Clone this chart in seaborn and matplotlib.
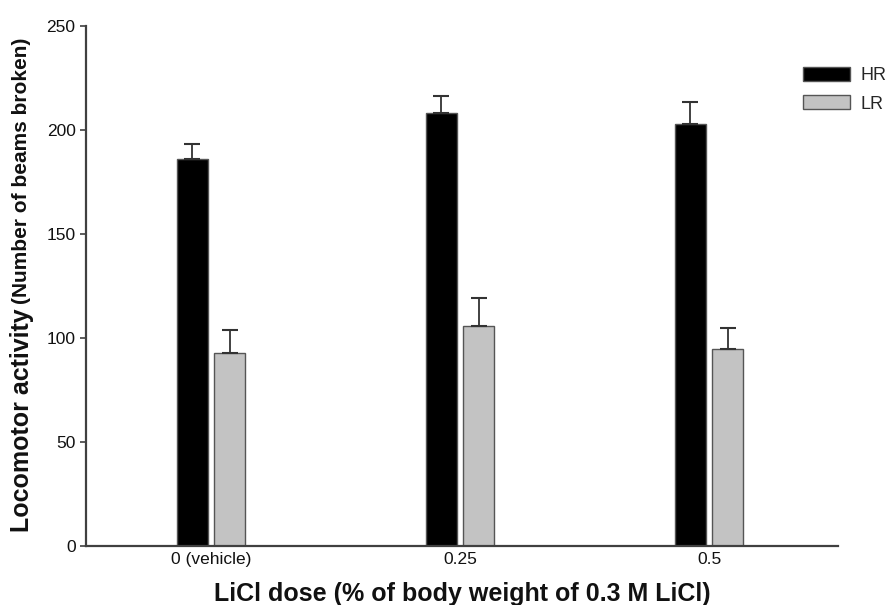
import matplotlib
matplotlib.use("Agg")
import matplotlib.pyplot as plt
import seaborn as sns
import pandas as pd

doses = ["0 (vehicle)", "0.25", "0.5"]
groups = ["HR", "LR"]
hr_means = [186, 208, 203]
hr_sem = [7.5, 8.5, 10.5]
lr_means = [93, 106, 94.5]
lr_sem = [11, 13, 10.5]

sns.set_theme(style="white")
font = "Liberation Sans"
plt.rcParams["font.family"] = [font, "DejaVu Sans"]

df = pd.DataFrame({
    "dose": doses * 2,
    "group": ["HR"] * 3 + ["LR"] * 3,
    "value": hr_means + lr_means,
    "err": hr_sem + lr_sem,
})

fig = plt.figure(figsize=(8.91, 6.05), dpi=100)
ax = fig.add_axes([86 / 891, 59 / 605, 752 / 891, 520 / 605])

sns.barplot(data=df, x="dose", y="value", hue="group", order=doses,
            hue_order=groups, palette={"HR": "#000000", "LR": "#c3c3c3"},
            width=0.3, gap=0.18, errorbar=None, ax=ax,
            edgecolor="#555555", linewidth=1.0, saturation=1)

# one-sided (upper) error bars at the centre of each drawn bar
for patch_group, g in zip(ax.containers, groups):
    sub = df[df["group"] == g].set_index("dose").loc[doses]
    xs = [p.get_x() + p.get_width() / 2 for p in patch_group]
    ax.errorbar(xs, sub["value"].values,
                yerr=[[0] * len(xs), sub["err"].values],
                fmt="none", ecolor="#333333", elinewidth=1.3,
                capsize=5.7, capthick=1.5, zorder=3)

ax.set_ylim(0, 250)
ax.set_xlim(-0.502, 2.518)
ax.set_yticks([0, 50, 100, 150, 200, 250])
for s in ["top", "right"]:
    ax.spines[s].set_visible(False)
for s in ["left", "bottom"]:
    ax.spines[s].set_color("#404040")
    ax.spines[s].set_linewidth(1.6)
ax.tick_params(axis="y", which="both", left=True, length=4.5, width=1.2,
               color="#404040", labelsize=12.5, pad=3, labelcolor="#111111")
ax.tick_params(axis="x", bottom=False, length=0, labelsize=12.5, pad=4,
               labelcolor="#111111")
ax.set_ylabel("")
ax.set_xlabel("LiCl dose (% of body weight of 0.3 M LiCl)", fontsize=18,
              fontweight="bold", color="#111111")
ax.xaxis.label.set_va("baseline")
ax.xaxis.set_label_coords((462 - 86) / 752, (546 - 601.5) / 520)

leg = ax.legend(loc="upper left", bbox_to_anchor=(802.7 / 891, 1 - 67 / 605),
                bbox_transform=fig.transFigure, frameon=False,
                borderpad=0, borderaxespad=0,
                handlelength=2.6, handleheight=0.8, handletextpad=0.6,
                labelspacing=0.62, fontsize=13, title=None)

# y-axis label in two sizes
t1 = fig.text(22 / 891, 1 - 532 / 605, "Locomotor activity", rotation=90,
              fontsize=18, fontweight="bold", color="#111111",
              ha="center", va="bottom")
fig.canvas.draw()
bb = t1.get_window_extent(fig.canvas.get_renderer())
top = bb.y1 / fig.bbox.height
fig.text(22 / 891 - 0.001, top + 0.008, "(Number of beams broken)", rotation=90,
         fontsize=15, fontweight="bold", color="#111111",
         ha="center", va="bottom")

fig.savefig("out.png", dpi=100)
